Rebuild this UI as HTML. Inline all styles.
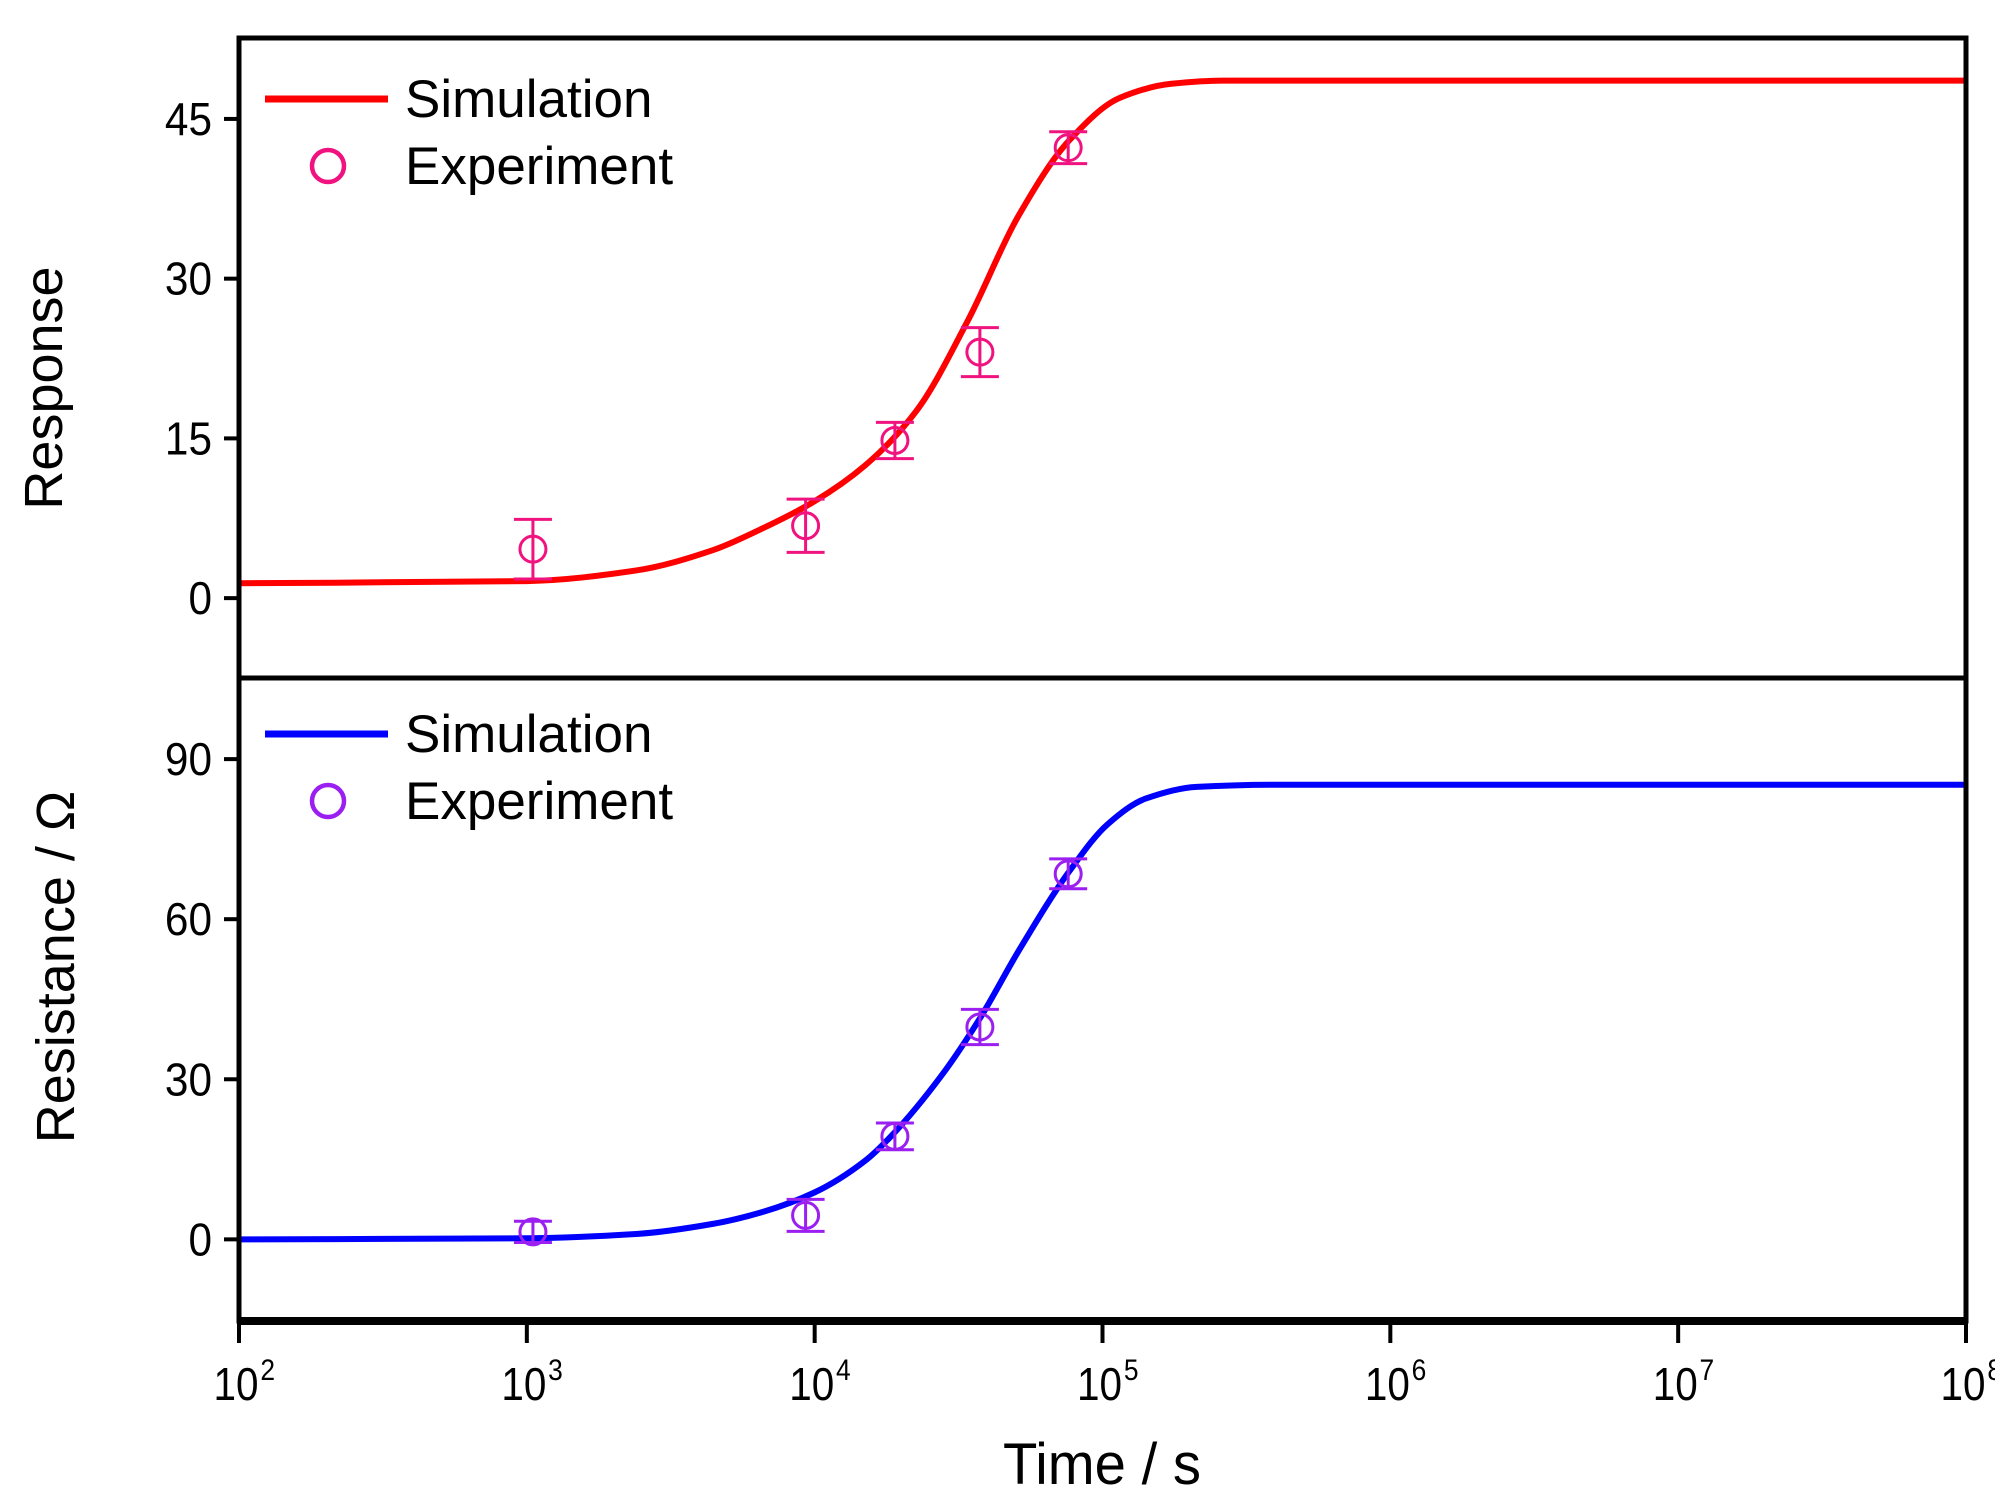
<!DOCTYPE html>
<html><head><meta charset="utf-8"><style>
html,body{margin:0;padding:0;background:#fff;}
svg{display:block;}
text{font-family:"Liberation Sans",sans-serif;fill:#000;}
</style></head><body>
<svg id="chart" width="1995" height="1506" viewBox="0 0 1995 1506" xmlns="http://www.w3.org/2000/svg">
<rect x="0" y="0" width="1995" height="1506" fill="#fff"/>
<g id="topPanel"></g>
<g id="botPanel"></g>
<g id="axesGroup"></g>
</svg>
<script>
// ---- data ----
const xTickExps = [2,3,4,5,6,7,8];
const topYTicks = [0,15,30,45];
const botYTicks = [0,30,60,90];
// simulation curves (log10 time, value)
const topSimLogT = [2,3,3.38,3.646,3.823,4.0,4.177,4.354,4.531,4.708,4.885,5.062,5.239,5.416,8];
const topSimVal  = [1.4,1.6,2.6,4.5,6.6,9.1,12.5,17.6,26,35.9,43,47,48.3,48.6,48.6];
const botSimLogT = [2,3,3.38,3.646,3.823,4.0,4.177,4.265,4.442,4.575,4.708,4.885,5.018,5.150,5.327,5.593,8];
const botSimVal  = [0,0.2,1,2.9,5.2,8.8,14.8,19.3,30.8,41.5,54,69,77.8,82.6,84.8,85.2,85.2];
// experiment points
const expTime   = [1050,9300,19000,37500,76000];
const topExpVal = [4.6,6.8,14.8,23.1,42.3];
const topExpErr = [2.8,2.5,1.7,2.3,1.5];
const botExpVal = [1.4,4.5,19.3,39.8,68.5];
const botExpErr = [2.0,3.0,2.5,3.3,2.8];

// ---- geometry ----
const NS='http://www.w3.org/2000/svg';
const L=239,R=1966,T=38,M=678,B=1321;
const xS=lg=>L+(lg-2)/6*(R-L);
const yTop=v=>M-(v-(-7.5))/(52.6-(-7.5))*(M-T);
const yBot=v=>B-(v-(-15.3))/(105.2-(-15.3))*(B-M);
function mk(tag,attrs,parent){const e=document.createElementNS(NS,tag);for(const k in attrs)e.setAttribute(k,attrs[k]);parent.appendChild(e);return e;}
const gTop=document.getElementById('topPanel'),gBot=document.getElementById('botPanel'),gAxes=document.getElementById('axesGroup');

function monotonePath(pts){
  const n=pts.length,dx=[],sl=[],m=[];
  for(let i=0;i<n-1;i++){dx.push(pts[i+1][0]-pts[i][0]);sl.push((pts[i+1][1]-pts[i][1])/dx[i]);}
  m[0]=sl[0];m[n-1]=sl[n-2];
  for(let i=1;i<n-1;i++){
    if(sl[i-1]*sl[i]<=0)m[i]=0;
    else{const w1=2*dx[i]+dx[i-1],w2=dx[i]+2*dx[i-1];m[i]=(w1+w2)/(w1/sl[i-1]+w2/sl[i]);}
  }
  let d='M'+pts[0][0]+','+pts[0][1];
  for(let i=0;i<n-1;i++){
    const h=dx[i]/3;
    d+=' C'+(pts[i][0]+h)+','+(pts[i][1]+m[i]*h)+' '+(pts[i+1][0]-h)+','+(pts[i+1][1]-m[i+1]*h)+' '+pts[i+1][0]+','+pts[i+1][1];
  }
  return d;
}

function panel(g,ys,ticks,simT,simV,expV,expE,lineCol,mkCol,legY,titleTxt,titleX,titleY){
  const pts=simT.map((t,i)=>[xS(t),ys(simV[i])]);
  const c=mk('path',{d:monotonePath(pts),fill:'none',stroke:lineCol,'stroke-width':6,'stroke-linejoin':'round'},g);
  
  
  expTime.forEach((t,i)=>{
    const x=xS(Math.log10(t)),y=ys(expV[i]),y1=ys(expV[i]+expE[i]),y2=ys(expV[i]-expE[i]);
    const eg=mk('g',{stroke:mkCol,'stroke-width':3,fill:'none'},g);
    
    
    mk('line',{x1:x,y1:y1,x2:x,y2:y2},eg);
    mk('line',{x1:x-19,y1:y1,x2:x+19,y2:y1},eg);
    mk('line',{x1:x-19,y1:y2,x2:x+19,y2:y2},eg);
    mk('circle',{cx:x,cy:y,r:13,fill:'none'},eg);
  });
  ticks.forEach(v=>{
    const y=ys(v);
    const tk=mk('line',{x1:L-15,y1:y,x2:L,y2:y,stroke:'#000','stroke-width':4},g);
    
    
    const tx=mk('text',{x:212,y:y+16,'text-anchor':'end','font-size':46,transform:'translate(212,0) scale(0.92,1) translate(-212,0)'},g);
    tx.textContent=v;
    
    
  });
  const lg=mk('g',{},g);
  
  
  mk('line',{x1:265,y1:legY,x2:388,y2:legY,stroke:lineCol,'stroke-width':7},lg);
  const t1=mk('text',{x:405,y:legY+18,'font-size':53},lg);
  t1.textContent='Simulation';
  
  
  mk('circle',{cx:328,cy:legY+67,r:16,fill:'none',stroke:mkCol,'stroke-width':4.5},lg);
  const t2=mk('text',{x:405,y:legY+85,'font-size':53},lg);
  t2.textContent='Experiment';
  
  
  const tt=mk('text',{x:titleX,y:titleY,'text-anchor':'middle','font-size':54,transform:'rotate(-90 '+titleX+' '+titleY+')'},g);
  tt.textContent=titleTxt;
  
  
}
panel(gTop,yTop,topYTicks,topSimLogT,topSimVal,topExpVal,topExpErr,'#ff0000','#f0137f',99,'Response',62,388);
panel(gBot,yBot,botYTicks,botSimLogT,botSimVal,botExpVal,botExpErr,'#0000ff','#9a1ff0',734,'Resistance / Ω',74,967);

const fr=mk('rect',{x:L,y:T,width:R-L,height:B-T,fill:'none',stroke:'#000','stroke-width':5},gAxes);


const dv=mk('line',{x1:L,y1:M,x2:R,y2:M,stroke:'#000','stroke-width':5},gAxes);


const xa=mk('line',{x1:L-2,y1:B,x2:R+2,y2:B,stroke:'#000','stroke-width':8},gAxes);


xTickExps.forEach(e=>{
  const x=xS(e);
  const tk=mk('line',{x1:x,y1:B,x2:x,y2:B+22,stroke:'#000','stroke-width':4},gAxes);
  
  
  const tx=mk('text',{x:x+6,y:1400,'text-anchor':'middle','font-size':46,transform:'translate('+x+',0) scale(0.88,1) translate('+(-x)+',0)'},gAxes);
  
  
  tx.appendChild(document.createTextNode('10'));
  const sp=mk('tspan',{'font-size':30,dy:-20,dx:2},tx);
  sp.textContent=e;
});
const xt=mk('text',{x:1102,y:1484,'text-anchor':'middle','font-size':58,transform:'translate(1102,0) scale(0.97,1) translate(-1102,0)'},gAxes);
xt.textContent='Time / s';


</script>
</body></html>
